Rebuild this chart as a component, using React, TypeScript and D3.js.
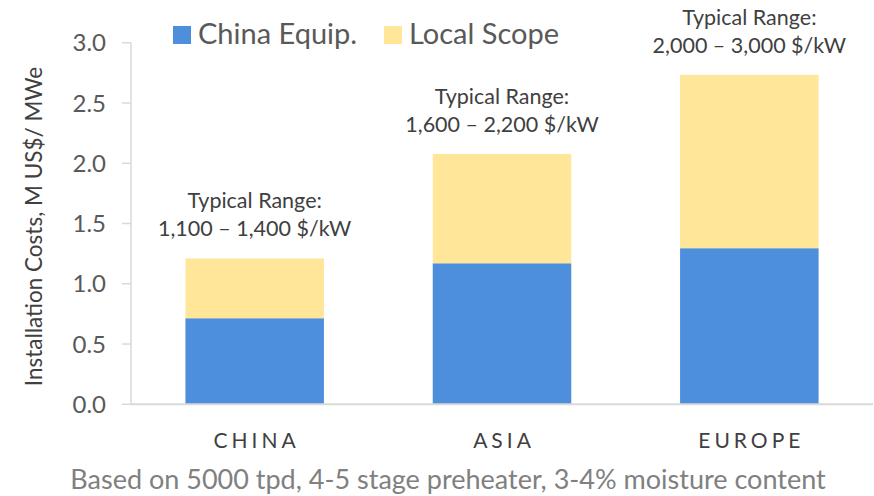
import React from "react";
import * as d3 from "d3";

const categories = ["CHINA", "ASIA", "EUROPE"];
const chinaEquip = [0.714, 1.17, 1.295];
const localScope = [0.496, 0.907, 1.438];
const rangeLabels = ["1,100 – 1,400 $/kW", "1,600 – 2,200 $/kW", "2,000 – 3,000 $/kW"];
const yTicks = [0, 0.5, 1, 1.5, 2, 2.5, 3];
const seriesNames = ["China Equip.", "Local Scope"];
const seriesColors = ["#4e8fdc", "#ffe699"];

const W = 874;
const H = 496;
const FONT = "Lato, 'Open Sans', sans-serif";

export default function App() {
  const x = d3.scaleBand<string>().domain(categories).range([131, 873]).paddingInner(0.44).paddingOuter(0.22);
  const y = d3.scaleLinear().domain([0, 3]).range([404.3, 42.7]);
  const stackData = categories.map((c, i) => ({ cat: c, equip: chinaEquip[i], local: localScope[i] }));
  const stack = d3.stack<any>().keys(["equip", "local"])(stackData);

  return (
    <svg width={W} height={H} style={{ position: "absolute", left: 0, top: 0, background: "#fff" }} fontFamily={FONT}>
      {/* bars */}
      {stack.map((layer, li) =>
        layer.map((d, i) => (
          <rect
            key={`${li}-${i}`}
            x={x(categories[i])}
            width={x.bandwidth()}
            y={y(d[1])}
            height={y(d[0]) - y(d[1])}
            fill={seriesColors[li]}
          />
        ))
      )}
      {/* y axis */}
      <line x1={131} x2={131} y1={y(3)} y2={y(0)} stroke="#d9d9d9" strokeWidth={1.5} />
      {yTicks.map((t) => (
        <g key={t}>
          <line x1={122} x2={131} y1={y(t)} y2={y(t)} stroke="#d9d9d9" strokeWidth={1.5} />
          <text x={106} y={y(t)} dy="0.36em" textAnchor="end" fontSize={24} fill="#595959">
            {d3.format(".1f")(t)}
          </text>
        </g>
      ))}
      {/* x axis */}
      <line x1={131} x2={873} y1={y(0)} y2={y(0)} stroke="#d9d9d9" strokeWidth={2} />
      {categories.map((c) => (
        <text key={c} x={(x(c) as number) + x.bandwidth() / 2 + 2} y={448} textAnchor="middle" fontSize={21} letterSpacing={4} fill="#404040">
          {c}
        </text>
      ))}
      {/* annotations */}
      {categories.map((c, i) => {
        const top = y(chinaEquip[i] + localScope[i]);
        const cx = (x(c) as number) + x.bandwidth() / 2;
        return (
          <g key={c} fontSize={21.5} fill="#404040" textAnchor="middle">
            <text x={cx} y={top - 50}>Typical Range:</text>
            <text x={cx} y={top - 22}>{rangeLabels[i]}</text>
          </g>
        );
      })}
      {/* y axis title */}
      <text transform={`translate(42,${(y(0) + y(3)) / 2 + 3}) rotate(-90)`} textAnchor="middle" fontSize={22.5} fill="#404040">
        Installation Costs, M US$/ MWe
      </text>
      {/* legend */}
      <rect x={173} y={26} width={18} height={18} fill={seriesColors[0]} />
      <text x={198} y={44} fontSize={29} fill="#595959">{seriesNames[0]}</text>
      <rect x={384} y={26} width={18} height={18} fill={seriesColors[1]} />
      <text x={409} y={44} fontSize={29} fill="#595959">{seriesNames[1]}</text>
      {/* note */}
      <text x={448} y={489} textAnchor="middle" fontSize={27} fill="#808080">
        Based on 5000 tpd, 4-5 stage preheater, 3-4% moisture content
      </text>
    </svg>
  );
}
